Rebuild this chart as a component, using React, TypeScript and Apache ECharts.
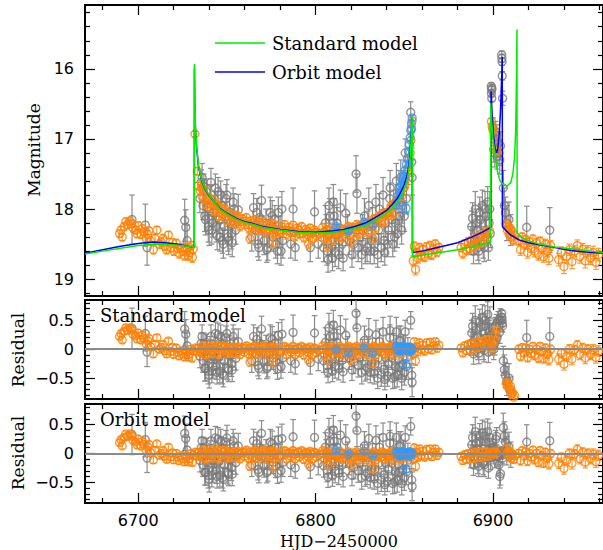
import React, { useEffect, useRef } from "react";
import * as echarts from "echarts";

// ---------- tick values ----------
const xMajorTicks = [6700, 6800, 6900];
const xMinorTicks = [6680, 6720, 6740, 6760, 6780, 6820, 6840, 6860, 6880, 6920, 6940, 6960];
const magMajorTicks = [16, 17, 18, 19];
const magMinorTicks = [15.2, 15.4, 15.6, 15.8, 16.2, 16.4, 16.6, 16.8, 17.2, 17.4, 17.6, 17.8, 18.2, 18.4, 18.6, 18.8, 19.2];
const resMajorTicks = [-0.5, 0, 0.5];
const resMinorTicks = [-0.8, -0.7, -0.6, -0.4, -0.3, -0.2, -0.1, 0.1, 0.2, 0.3, 0.4, 0.6, 0.7, 0.8];

// ---------- model curves [HJD, mag] ----------
const standardModel = [
  [6670, 18.64], [6680, 18.6], [6690, 18.56], [6700, 18.52], [6710, 18.5], [6720, 18.51], [6728, 18.53], [6731.6, 18.55],
  [6731.7, 15.93], [6731.9, 16.45], [6732.3, 16.85], [6733, 17.12], [6734, 17.38], [6735.5, 17.56], [6737.5, 17.7],
  [6740, 17.8], [6743, 17.9], [6746, 18.0], [6750, 18.07], [6755, 18.14], [6760, 18.19], [6765, 18.22], [6770, 18.26],
  [6775, 18.28], [6780, 18.3], [6790, 18.33], [6800, 18.34], [6810, 18.33], [6816, 18.31], [6822, 18.28], [6828, 18.23],
  [6833, 18.17], [6837, 18.11], [6840, 18.06], [6843, 17.99], [6846, 17.9], [6848, 17.82], [6850, 17.71], [6851.5, 17.6],
  [6852.5, 17.45], [6853.3, 17.25], [6853.9, 17.0], [6854.3, 16.75], [6854.5, 16.7], [6854.6, 18.68], [6860, 18.66],
  [6870, 18.62], [6880, 18.58], [6890, 18.53], [6898.6, 18.47], [6898.7, 16.49], [6899.2, 16.75], [6900, 17.0],
  [6901, 17.2], [6902.4, 17.45], [6904, 17.6], [6906, 17.66], [6908, 17.67], [6910, 17.62], [6911.2, 17.5],
  [6912.2, 17.25], [6912.8, 16.85], [6913.2, 16.2], [6913.5, 15.44], [6913.6, 18.34], [6916, 18.4], [6920, 18.45],
  [6926, 18.5], [6935, 18.54], [6945, 18.57], [6955, 18.6], [6962, 18.62],
];
const orbitModel = [
  [6670, 18.63], [6680, 18.58], [6690, 18.53], [6700, 18.49], [6708, 18.47], [6715, 18.48], [6722, 18.5], [6728, 18.53],
  [6731.6, 18.55], [6731.7, 16.0], [6731.9, 16.5], [6732.3, 16.88], [6733, 17.15], [6734, 17.4], [6735.5, 17.57],
  [6737.5, 17.71], [6740, 17.81], [6743, 17.9], [6746, 17.99], [6750, 18.06], [6755, 18.13], [6760, 18.18], [6765, 18.21],
  [6770, 18.25], [6775, 18.27], [6780, 18.29], [6790, 18.32], [6800, 18.33], [6810, 18.31], [6816, 18.29], [6822, 18.25],
  [6828, 18.2], [6833, 18.13], [6837, 18.07], [6840, 18.02], [6843, 17.94], [6846, 17.85], [6848, 17.76], [6850, 17.65],
  [6851.5, 17.53], [6852.5, 17.39], [6853.3, 17.2], [6853.9, 16.97], [6854.3, 16.75], [6854.5, 16.7], [6854.6, 18.62],
  [6860, 18.6], [6870, 18.54], [6880, 18.48], [6888, 18.4], [6894, 18.33], [6898.8, 18.26], [6898.9, 16.32],
  [6899.5, 16.65], [6900.3, 16.95], [6901.2, 17.14], [6902, 17.2], [6902.8, 17.12], [6903.6, 16.9], [6904.3, 16.55],
  [6904.9, 16.1], [6905.2, 15.83], [6905.3, 18.25], [6907, 18.3], [6910, 18.37], [6914.6, 18.44], [6920, 18.48],
  [6926, 18.51], [6935, 18.55], [6944, 18.59], [6955, 18.62], [6962, 18.63],
];

// ---------- data [HJD, mag, err, resid(standard), resid(orbit)] ----------
const orangePoints = [
  [6689.5, 18.35, 0.05, 0.22, 0.19], [6691.0, 18.40, 0.05, 0.16, 0.13], [6693.0, 18.18, 0.05, 0.37, 0.34],
  [6694.0, 18.22, 0.06, 0.33, 0.30], [6695.5, 18.17, 0.05, 0.37, 0.34], [6697.0, 18.27, 0.06, 0.26, 0.23],
  [6698.5, 18.30, 0.05, 0.23, 0.20], [6700.0, 18.24, 0.06, 0.28, 0.25], [6701.5, 18.36, 0.06, 0.16, 0.13],
  [6703.0, 18.32, 0.05, 0.19, 0.16], [6704.5, 18.42, 0.06, 0.09, 0.06], [6706.0, 18.31, 0.05, 0.19, 0.16],
  [6707.0, 18.46, 0.06, 0.04, 0.01], [6708.5, 18.58, 0.06, -0.08, -0.11], [6710.5, 18.30, 0.05, 0.20, 0.17],
  [6713.0, 18.47, 0.06, 0.03, 0.00], [6715.0, 18.53, 0.06, -0.03, -0.05], [6717.0, 18.37, 0.05, 0.14, 0.11],
  [6718.5, 18.55, 0.06, -0.04, -0.06], [6720.0, 18.60, 0.06, -0.09, -0.11], [6721.5, 18.49, 0.06, 0.02, 0.00],
  [6723.0, 18.63, 0.07, -0.11, -0.12], [6724.5, 18.55, 0.06, -0.03, -0.04], [6726.0, 18.66, 0.07, -0.13, -0.14],
  [6727.5, 18.57, 0.06, -0.04, -0.05], [6729.0, 18.62, 0.06, -0.08, -0.09], [6730.5, 18.69, 0.07, -0.15, -0.15],
  [6731.0, 18.57, 0.06, -0.03, -0.03],
  [6690.3, 18.30, 0.05, 0.27, 0.24], [6692.0, 18.25, 0.05, 0.31, 0.28], [6696.3, 18.21, 0.05, 0.33, 0.30],
  [6699.3, 18.35, 0.06, 0.18, 0.15], [6702.3, 18.28, 0.05, 0.24, 0.21], [6705.3, 18.36, 0.06, 0.15, 0.12],
  [6709.5, 18.42, 0.06, 0.08, 0.05], [6712.0, 18.50, 0.06, 0.00, -0.03], [6714.0, 18.42, 0.06, 0.08, 0.05],
  [6716.0, 18.58, 0.06, -0.08, -0.10], [6719.3, 18.48, 0.06, 0.03, 0.01], [6722.3, 18.56, 0.06, -0.05, -0.06],
  [6725.3, 18.60, 0.06, -0.08, -0.09], [6728.3, 18.66, 0.07, -0.13, -0.14], [6729.8, 18.52, 0.06, 0.00, 0.00],
  [6732.0, 16.93, 0.04, 0.02, 0.02], [6733.3, 17.46, 0.05, -0.05, -0.05], [6733.8, 17.67, 0.05, 0.02, 0.02],
  [6735.0, 17.74, 0.06, -0.04, -0.04], [6736.0, 17.82, 0.06, -0.07, -0.07], [6737.0, 17.72, 0.05, 0.07, 0.07],
  [6738.2, 17.93, 0.06, -0.10, -0.10], [6739.4, 17.84, 0.05, 0.02, 0.02], [6740.6, 17.97, 0.06, -0.08, -0.08],
  [6741.8, 17.86, 0.05, 0.06, 0.06], [6743.0, 18.02, 0.06, -0.07, -0.07], [6744.2, 17.93, 0.05, 0.06, 0.06],
  [6745.4, 18.10, 0.06, -0.09, -0.09], [6746.6, 17.98, 0.05, 0.05, 0.05], [6747.8, 18.08, 0.06, -0.03, -0.03],
  [6749.0, 18.00, 0.05, 0.06, 0.06], [6750.2, 18.16, 0.06, -0.08, -0.08], [6751.4, 18.06, 0.05, 0.03, 0.03],
  [6752.6, 18.18, 0.07, -0.07, -0.07], [6753.8, 18.08, 0.05, 0.04, 0.04], [6755.0, 18.20, 0.06, -0.07, -0.07],
  [6756.2, 18.10, 0.05, 0.04, 0.04], [6757.4, 18.24, 0.07, -0.09, -0.09], [6758.6, 18.14, 0.05, 0.02, 0.02],
  [6759.8, 18.22, 0.06, -0.05, -0.05], [6761.0, 18.12, 0.05, 0.06, 0.06], [6762.2, 18.27, 0.07, -0.08, -0.08],
  [6763.4, 18.17, 0.05, 0.03, 0.03], [6764.6, 18.26, 0.06, -0.06, -0.06], [6765.8, 18.15, 0.05, 0.06, 0.06],
  [6767.0, 18.30, 0.07, -0.08, -0.08], [6768.2, 18.19, 0.05, 0.03, 0.03], [6769.4, 18.28, 0.06, -0.05, -0.05],
  [6770.6, 18.18, 0.05, 0.06, 0.06], [6771.8, 18.33, 0.07, -0.09, -0.09], [6773.0, 18.22, 0.05, 0.02, 0.02],
  [6774.2, 18.30, 0.06, -0.05, -0.05], [6775.4, 18.20, 0.05, 0.05, 0.05], [6776.6, 18.34, 0.07, -0.09, -0.09],
  [6777.8, 18.23, 0.05, 0.03, 0.03], [6779.0, 18.31, 0.06, -0.05, -0.05], [6782.5, 18.22, 0.05, 0.05, 0.05],
  [6783.7, 18.36, 0.07, -0.09, -0.09], [6784.9, 18.26, 0.05, 0.02, 0.02], [6786.1, 18.33, 0.06, -0.05, -0.05],
  [6787.3, 18.23, 0.05, 0.05, 0.05], [6788.5, 18.38, 0.07, -0.09, -0.09], [6789.7, 18.27, 0.05, 0.02, 0.02],
  [6790.9, 18.35, 0.06, -0.06, -0.06], [6792.1, 18.25, 0.05, 0.05, 0.05], [6793.3, 18.40, 0.07, -0.10, -0.10],
  [6794.5, 18.29, 0.05, 0.02, 0.02], [6795.7, 18.36, 0.06, -0.05, -0.05], [6796.9, 18.27, 0.05, 0.04, 0.04],
  [6798.1, 18.42, 0.07, -0.10, -0.10], [6799.3, 18.30, 0.05, 0.02, 0.02], [6800.5, 18.38, 0.07, -0.06, -0.06],
  [6804.0, 18.26, 0.05, 0.06, 0.05], [6805.2, 18.41, 0.07, -0.09, -0.10], [6806.4, 18.30, 0.05, 0.02, 0.01],
  [6807.6, 18.37, 0.06, -0.05, -0.06], [6808.8, 18.27, 0.05, 0.05, 0.04], [6810.0, 18.43, 0.07, -0.11, -0.12],
  [6811.2, 18.31, 0.05, 0.01, 0.00], [6812.4, 18.38, 0.06, -0.06, -0.07], [6813.6, 18.27, 0.05, 0.05, 0.04],
  [6814.8, 18.40, 0.07, -0.09, -0.10], [6816.0, 18.29, 0.05, 0.02, 0.00], [6817.2, 18.35, 0.06, -0.05, -0.07],
  [6818.4, 18.25, 0.05, 0.05, 0.03], [6819.6, 18.38, 0.07, -0.09, -0.11], [6820.8, 18.26, 0.05, 0.03, 0.01],
  [6822.0, 18.33, 0.06, -0.05, -0.07], [6823.2, 18.22, 0.05, 0.05, 0.03], [6824.4, 18.35, 0.07, -0.09, -0.11],
  [6825.6, 18.24, 0.05, 0.02, 0.00], [6826.8, 18.30, 0.06, -0.05, -0.07], [6828.0, 18.19, 0.05, 0.05, 0.03],
  [6829.2, 18.32, 0.07, -0.09, -0.11], [6830.4, 18.20, 0.05, 0.02, 0.00], [6831.6, 18.25, 0.06, -0.05, -0.07],
  [6832.8, 18.14, 0.05, 0.05, 0.03], [6834.0, 18.26, 0.07, -0.09, -0.11], [6835.2, 18.13, 0.05, 0.02, 0.00],
  [6836.4, 18.18, 0.06, -0.05, -0.07], [6837.6, 18.06, 0.05, 0.05, 0.03], [6838.8, 18.17, 0.07, -0.08, -0.10],
  [6840.0, 18.05, 0.05, 0.02, 0.00], [6841.2, 18.09, 0.06, -0.05, -0.07], [6842.4, 17.96, 0.05, 0.05, 0.03],
  [6843.6, 18.06, 0.07, -0.09, -0.11], [6844.8, 17.91, 0.05, 0.02, 0.00], [6846.0, 17.92, 0.06, -0.05, -0.07],
  [6847.2, 17.77, 0.05, 0.04, 0.02], [6848.4, 17.82, 0.06, -0.08, -0.10], [6849.6, 17.63, 0.05, 0.02, 0.00],
  [6850.8, 17.57, 0.06, -0.03, -0.05], [6851.8, 17.46, 0.05, 0.03, 0.01], [6852.6, 17.30, 0.05, -0.02, -0.04],
  [6853.3, 17.20, 0.04, 0.00, -0.02], [6853.7, 17.02, 0.04, 0.02, 0.01], [6854.1, 16.86, 0.04, 0.01, 0.01],
  [6854.4, 16.74, 0.04, 0.00, 0.00],
  [6735.6, 17.70, 0.05, 0.00, 0.00], [6738.8, 17.86, 0.05, -0.01, -0.01], [6741.2, 17.92, 0.05, -0.01, -0.01],
  [6743.6, 17.94, 0.05, 0.02, 0.02], [6746.0, 18.05, 0.05, -0.02, -0.02], [6748.4, 18.03, 0.05, 0.03, 0.03],
  [6750.8, 18.11, 0.05, -0.02, -0.02], [6753.2, 18.12, 0.05, 0.00, 0.00], [6755.6, 18.13, 0.05, 0.01, 0.01],
  [6758.0, 18.18, 0.05, -0.01, -0.01], [6760.4, 18.17, 0.05, 0.02, 0.02], [6762.8, 18.22, 0.05, -0.02, -0.02],
  [6765.2, 18.20, 0.05, 0.01, 0.01], [6767.6, 18.26, 0.05, -0.02, -0.02], [6770.0, 18.23, 0.05, 0.03, 0.03],
  [6772.4, 18.29, 0.05, -0.02, -0.02], [6774.8, 18.25, 0.05, 0.03, 0.03], [6777.2, 18.29, 0.05, -0.01, -0.01],
  [6780.2, 18.33, 0.06, -0.04, -0.04], [6783.1, 18.30, 0.05, 0.00, 0.00], [6785.5, 18.31, 0.05, 0.00, 0.00],
  [6787.9, 18.33, 0.05, -0.01, -0.01], [6790.3, 18.30, 0.05, 0.02, 0.02], [6792.7, 18.35, 0.05, -0.02, -0.02],
  [6795.1, 18.32, 0.05, 0.01, 0.01], [6797.5, 18.35, 0.05, -0.01, -0.01], [6799.9, 18.33, 0.05, 0.01, 0.01],
  [6802.3, 18.35, 0.06, -0.01, -0.01], [6804.6, 18.33, 0.05, 0.00, 0.00], [6807.0, 18.35, 0.05, -0.02, -0.02],
  [6809.4, 18.32, 0.05, 0.01, 0.00], [6811.8, 18.35, 0.05, -0.02, -0.03], [6814.2, 18.31, 0.05, 0.01, -0.01],
  [6816.6, 18.32, 0.05, -0.01, -0.03], [6819.0, 18.28, 0.05, 0.01, -0.01], [6821.4, 18.29, 0.05, -0.02, -0.04],
  [6823.8, 18.25, 0.05, 0.01, -0.01], [6826.2, 18.25, 0.05, -0.01, -0.03], [6828.6, 18.21, 0.05, 0.01, -0.01],
  [6831.0, 18.20, 0.05, -0.01, -0.03], [6833.4, 18.14, 0.05, 0.02, 0.00], [6835.8, 18.12, 0.05, -0.01, -0.03],
  [6838.2, 18.07, 0.05, 0.02, 0.00], [6840.6, 18.06, 0.05, -0.01, -0.03], [6843.0, 17.97, 0.05, 0.02, 0.00],
  [6845.4, 17.88, 0.05, 0.00, -0.02], [6847.8, 17.78, 0.05, 0.02, 0.00], [6850.2, 17.68, 0.05, 0.00, -0.02],
  [6852.2, 17.40, 0.05, 0.01, -0.01],
  [6763.0, 18.42, 0.07, -0.22, -0.22], [6776.0, 18.48, 0.07, -0.22, -0.22], [6796.0, 18.50, 0.07, -0.18, -0.18],
  [6806.8, 18.52, 0.07, -0.19, -0.20], [6820.0, 18.48, 0.07, -0.19, -0.21], [6832.4, 18.42, 0.07, -0.24, -0.26],
  [6855.0, 18.74, 0.07, -0.08, -0.10], [6855.6, 18.53, 0.06, 0.13, 0.10], [6856.3, 18.86, 0.08, -0.20, -0.22],
  [6857.0, 18.62, 0.06, 0.04, 0.02], [6857.8, 18.70, 0.07, -0.04, -0.06], [6858.6, 18.55, 0.06, 0.11, 0.08],
  [6859.5, 18.66, 0.07, 0.00, -0.03], [6860.5, 18.58, 0.06, 0.07, 0.04], [6861.5, 18.68, 0.07, -0.03, -0.06],
  [6862.5, 18.54, 0.06, 0.11, 0.07], [6863.5, 18.63, 0.07, 0.01, -0.03], [6864.5, 18.52, 0.06, 0.12, 0.08],
  [6865.5, 18.65, 0.07, -0.01, -0.05], [6866.5, 18.57, 0.06, 0.06, 0.02], [6867.5, 18.50, 0.06, 0.13, 0.08],
  [6868.5, 18.61, 0.07, 0.02, -0.03], [6869.5, 18.55, 0.06, 0.07, 0.02],
  [6882.0, 18.55, 0.06, 0.02, -0.05], [6883.0, 18.63, 0.07, -0.06, -0.12], [6884.0, 18.50, 0.06, 0.06, -0.02],
  [6885.0, 18.58, 0.07, -0.02, -0.10], [6886.0, 18.47, 0.06, 0.08, 0.00], [6887.0, 18.56, 0.07, -0.01, -0.09],
  [6888.0, 18.45, 0.06, 0.09, 0.01], [6889.0, 18.53, 0.07, 0.01, -0.08], [6890.0, 18.42, 0.06, 0.11, 0.02],
  [6891.0, 18.50, 0.07, 0.03, -0.06], [6892.0, 18.40, 0.06, 0.12, 0.02], [6893.0, 18.47, 0.07, 0.05, -0.06],
  [6894.0, 18.37, 0.06, 0.14, 0.03], [6895.0, 18.44, 0.07, 0.07, -0.05], [6896.0, 18.34, 0.06, 0.16, 0.03],
  [6897.0, 18.40, 0.07, 0.09, -0.04], [6898.0, 18.31, 0.06, 0.17, 0.00],
  [6899.1, 16.75, 0.04, 0.05, 0.02], [6899.5, 16.82, 0.04, 0.00, -0.03], [6900.0, 16.88, 0.04, 0.10, 0.00],
  [6900.6, 16.95, 0.05, 0.15, 0.02], [6901.4, 17.10, 0.05, 0.27, 0.04], [6902.0, 17.17, 0.05, 0.33, 0.00],
  [6907.5, 18.22, 0.06, -0.58, 0.08], [6908.0, 18.30, 0.06, -0.63, 0.00], [6908.6, 18.26, 0.06, -0.60, 0.04],
  [6909.2, 18.36, 0.07, -0.70, -0.05], [6909.8, 18.28, 0.06, -0.64, 0.03], [6910.4, 18.40, 0.07, -0.78, -0.08],
  [6911.0, 18.33, 0.06, -0.75, -0.01], [6911.6, 18.44, 0.07, -0.83, -0.10], [6912.2, 18.38, 0.06, -0.80, -0.04],
  [6914.5, 18.45, 0.07, 0.00, 0.00], [6915.5, 18.58, 0.08, -0.12, -0.12], [6916.5, 18.40, 0.06, 0.03, 0.05],
  [6917.5, 18.50, 0.07, -0.06, -0.04], [6918.5, 18.44, 0.06, 0.02, 0.03], [6919.5, 18.62, 0.08, -0.14, -0.13],
  [6920.5, 18.47, 0.06, 0.00, 0.00], [6921.5, 18.55, 0.07, -0.07, -0.06], [6922.5, 18.43, 0.06, 0.05, 0.06],
  [6923.5, 18.60, 0.08, -0.10, -0.10], [6924.5, 18.49, 0.07, 0.00, 0.00], [6925.5, 18.65, 0.08, -0.15, -0.15],
  [6926.5, 18.46, 0.06, 0.05, 0.05], [6927.5, 18.56, 0.07, -0.04, -0.04], [6928.5, 18.68, 0.08, -0.16, -0.16],
  [6929.5, 18.50, 0.07, 0.02, 0.02], [6930.5, 18.60, 0.08, -0.08, -0.08], [6931.5, 18.70, 0.09, -0.18, -0.18],
  [6932.5, 18.52, 0.07, 0.00, 0.00],
  [6937.0, 18.72, 0.09, -0.17, -0.17], [6938.5, 18.62, 0.08, -0.07, -0.07], [6940.0, 18.82, 0.10, -0.26, -0.26],
  [6941.5, 18.68, 0.09, -0.12, -0.12], [6943.0, 18.58, 0.08, 0.00, 0.00], [6944.5, 18.75, 0.10, -0.17, -0.17],
  [6946.0, 18.60, 0.08, -0.01, -0.01], [6947.5, 18.52, 0.08, 0.07, 0.07], [6949.0, 18.68, 0.09, -0.09, -0.09],
  [6950.5, 18.57, 0.08, 0.02, 0.02], [6952.0, 18.74, 0.10, -0.15, -0.15], [6953.5, 18.60, 0.08, 0.00, 0.00],
  [6955.0, 18.70, 0.09, -0.09, -0.09], [6956.5, 18.62, 0.09, -0.01, -0.01], [6958.0, 18.76, 0.10, -0.14, -0.14],
  [6959.5, 18.65, 0.09, -0.03, -0.03],
];

const grayPoints = [
  [6696.5, 18.15, 0.35, 0.36, 0.33], [6704.0, 18.23, 0.30, 0.27, 0.24], [6705.0, 18.55, 0.25, -0.05, -0.08],
  [6726.2, 18.16, 0.30, 0.35, 0.35], [6726.8, 18.26, 0.25, 0.26, 0.26], [6727.6, 18.45, 0.22, 0.06, 0.06],
  [6735.5, 17.62, 0.18, 0.10, 0.10], [6736.5, 17.95, 0.20, -0.20, -0.20], [6737.5, 18.10, 0.22, -0.33, -0.33],
  [6738.5, 17.75, 0.18, 0.08, 0.08], [6739.5, 18.25, 0.22, -0.38, -0.38], [6740.5, 17.85, 0.20, 0.02, 0.02],
  [6741.5, 18.30, 0.20, -0.38, -0.38], [6742.5, 18.05, 0.18, -0.12, -0.12], [6743.5, 17.70, 0.20, 0.27, 0.27],
  [6744.5, 18.38, 0.20, -0.40, -0.40], [6745.5, 18.15, 0.20, -0.14, -0.14], [6746.5, 17.80, 0.20, 0.22, 0.22],
  [6747.5, 18.45, 0.18, -0.42, -0.42], [6748.5, 18.25, 0.20, -0.20, -0.20], [6749.5, 17.85, 0.20, 0.20, 0.20],
  [6750.5, 18.40, 0.20, -0.33, -0.33], [6751.5, 18.05, 0.20, 0.03, 0.03], [6752.5, 18.35, 0.22, -0.25, -0.25],
  [6753.5, 17.90, 0.20, 0.22, 0.22], [6756.4, 18.01, 0.22, 0.13, 0.13],
  [6734.8, 17.85, 0.20, -0.12, -0.12], [6736.0, 17.55, 0.20, 0.22, 0.22], [6737.0, 17.68, 0.18, 0.10, 0.10],
  [6738.0, 18.15, 0.22, -0.33, -0.33], [6739.0, 17.98, 0.20, -0.15, -0.15], [6740.0, 18.30, 0.22, -0.45, -0.45],
  [6741.0, 17.62, 0.20, 0.22, 0.22], [6742.0, 18.20, 0.20, -0.30, -0.30], [6743.0, 17.95, 0.20, -0.05, -0.05],
  [6744.0, 18.25, 0.22, -0.30, -0.30], [6745.0, 17.75, 0.20, 0.25, 0.25], [6746.0, 18.40, 0.20, -0.38, -0.38],
  [6747.0, 17.95, 0.20, 0.08, 0.08], [6748.0, 18.50, 0.20, -0.45, -0.45], [6749.0, 18.10, 0.20, -0.04, -0.04],
  [6750.0, 17.80, 0.22, 0.27, 0.27], [6751.0, 18.45, 0.20, -0.36, -0.36], [6752.0, 18.20, 0.20, -0.10, -0.10],
  [6753.0, 18.48, 0.20, -0.36, -0.36], [6754.0, 18.00, 0.22, 0.13, 0.13], [6755.0, 18.30, 0.20, -0.16, -0.16],
  [6765.0, 17.98, 0.20, 0.22, 0.22], [6766.0, 18.30, 0.20, -0.08, -0.08], [6767.5, 18.50, 0.18, -0.28, -0.28],
  [6768.5, 18.12, 0.20, 0.10, 0.10], [6769.5, 17.88, 0.22, 0.35, 0.35], [6771.0, 18.45, 0.20, -0.21, -0.21],
  [6772.0, 18.20, 0.20, 0.04, 0.04], [6773.0, 18.55, 0.18, -0.30, -0.30], [6774.5, 18.05, 0.22, 0.20, 0.20],
  [6776.0, 18.40, 0.20, -0.15, -0.15], [6777.0, 18.15, 0.20, 0.10, 0.10], [6778.5, 18.60, 0.18, -0.34, -0.34],
  [6780.0, 18.30, 0.20, -0.04, -0.04], [6781.0, 18.00, 0.25, 0.26, 0.26], [6787.3, 18.00, 0.30, 0.29, 0.29],
  [6799.4, 18.04, 0.30, 0.28, 0.28],
  [6764.0, 18.40, 0.20, -0.20, -0.20], [6766.8, 18.05, 0.20, 0.17, 0.17], [6768.0, 18.55, 0.18, -0.33, -0.33],
  [6770.0, 18.30, 0.20, -0.05, -0.05], [6772.5, 18.58, 0.18, -0.33, -0.33], [6774.0, 18.35, 0.20, -0.08, -0.08],
  [6775.5, 18.10, 0.22, 0.17, 0.17], [6777.5, 18.50, 0.20, -0.22, -0.22], [6779.0, 18.05, 0.22, 0.24, 0.24],
  [6780.5, 18.60, 0.20, -0.30, -0.30], [6781.5, 18.45, 0.25, -0.15, -0.15],
  [6786.0, 18.50, 0.20, -0.20, -0.20], [6788.5, 18.55, 0.18, -0.25, -0.25], [6797.0, 18.55, 0.20, -0.23, -0.23],
  [6801.5, 18.50, 0.20, -0.17, -0.17],
  [6805.5, 18.20, 0.25, 0.12, 0.11], [6806.5, 18.60, 0.20, -0.28, -0.29], [6807.5, 17.95, 0.25, 0.37, 0.36],
  [6808.5, 18.45, 0.20, -0.13, -0.14], [6809.5, 18.70, 0.18, -0.38, -0.39], [6810.5, 18.10, 0.25, 0.22, 0.21],
  [6811.5, 18.35, 0.20, -0.03, -0.04], [6813.0, 18.65, 0.20, -0.33, -0.34], [6814.0, 17.98, 0.25, 0.33, 0.32],
  [6815.0, 18.50, 0.20, -0.19, -0.20],
  [6804.5, 18.55, 0.20, -0.20, -0.21], [6806.0, 18.30, 0.22, 0.03, 0.02], [6807.0, 18.72, 0.18, -0.40, -0.41],
  [6808.0, 18.10, 0.25, 0.22, 0.21], [6809.0, 18.55, 0.20, -0.22, -0.23], [6810.0, 17.90, 0.25, 0.42, 0.41],
  [6811.0, 18.62, 0.20, -0.30, -0.31], [6812.0, 18.20, 0.22, 0.12, 0.11], [6813.5, 18.45, 0.20, -0.14, -0.15],
  [6815.5, 18.70, 0.18, -0.39, -0.40],
  [6817.0, 18.06, 0.28, 0.24, 0.22], [6819.0, 18.45, 0.20, -0.15, -0.17], [6820.5, 18.65, 0.18, -0.36, -0.38],
  [6822.8, 17.50, 0.26, 0.62, 0.65], [6823.3, 17.78, 0.28, 0.37, 0.40], [6825.0, 18.40, 0.20, -0.14, -0.16],
  [6826.0, 18.65, 0.20, -0.40, -0.42], [6827.5, 18.10, 0.25, 0.15, 0.13], [6829.0, 18.55, 0.20, -0.32, -0.34],
  [6830.0, 17.95, 0.25, 0.28, 0.26], [6831.5, 18.45, 0.20, -0.25, -0.27], [6833.0, 18.60, 0.18, -0.42, -0.44],
  [6834.0, 17.90, 0.25, 0.25, 0.23], [6835.5, 18.30, 0.20, -0.15, -0.17], [6837.0, 18.55, 0.20, -0.44, -0.46],
  [6838.0, 17.80, 0.25, 0.30, 0.28], [6839.5, 18.20, 0.20, -0.15, -0.17], [6840.5, 18.50, 0.18, -0.46, -0.48],
  [6842.0, 17.70, 0.25, 0.32, 0.30], [6843.0, 18.15, 0.20, -0.15, -0.17], [6844.5, 18.40, 0.20, -0.47, -0.49],
  [6845.5, 17.60, 0.25, 0.30, 0.28], [6846.5, 18.00, 0.22, -0.16, -0.18], [6848.0, 17.55, 0.25, 0.15, 0.13],
  [6849.0, 17.95, 0.25, -0.27, -0.29], [6850.5, 17.20, 0.20, 0.30, 0.28],
  [6818.0, 18.30, 0.22, 0.00, -0.02], [6821.5, 18.50, 0.20, -0.22, -0.24], [6824.0, 18.55, 0.20, -0.28, -0.30],
  [6826.5, 18.30, 0.22, -0.05, -0.07], [6828.0, 18.60, 0.18, -0.37, -0.39], [6829.5, 18.25, 0.22, -0.05, -0.07],
  [6830.8, 18.60, 0.18, -0.40, -0.42], [6832.0, 18.20, 0.22, -0.03, -0.05], [6833.5, 18.40, 0.20, -0.25, -0.27],
  [6835.0, 18.65, 0.18, -0.50, -0.52], [6836.0, 18.00, 0.22, 0.13, 0.11], [6838.5, 18.45, 0.20, -0.35, -0.37],
  [6839.0, 18.62, 0.18, -0.52, -0.54], [6841.0, 18.30, 0.20, -0.25, -0.27], [6841.8, 17.85, 0.22, 0.20, 0.18],
  [6843.5, 18.50, 0.18, -0.50, -0.52], [6844.0, 17.95, 0.22, 0.05, 0.03], [6845.0, 18.20, 0.20, -0.30, -0.32],
  [6846.0, 18.35, 0.20, -0.45, -0.47], [6847.0, 17.70, 0.25, 0.15, 0.13], [6847.5, 18.10, 0.22, -0.30, -0.32],
  [6848.5, 18.30, 0.20, -0.50, -0.52], [6849.5, 17.70, 0.25, 0.00, -0.02], [6850.0, 18.10, 0.22, -0.40, -0.42],
  [6851.2, 17.85, 0.22, -0.30, -0.32], [6852.0, 17.45, 0.20, 0.00, -0.02],
  [6853.6, 16.62, 0.15, 0.50, 0.47], [6853.9, 16.85, 0.12, -0.05, -0.06], [6854.2, 17.33, 0.20, -0.45, -0.46],
  [6854.4, 17.55, 0.25, -0.57, -0.57],
  [6888.5, 18.13, 0.22, 0.40, 0.28], [6889.5, 18.45, 0.20, 0.10, -0.05], [6890.5, 18.20, 0.20, 0.33, 0.18],
  [6891.5, 18.55, 0.18, 0.00, -0.17], [6892.5, 18.05, 0.22, 0.47, 0.30], [6893.5, 18.35, 0.20, 0.17, 0.00],
  [6894.5, 18.50, 0.20, 0.02, -0.17], [6895.5, 18.00, 0.25, 0.50, 0.30], [6896.3, 18.30, 0.20, 0.20, 0.00],
  [6897.0, 17.90, 0.22, 0.60, 0.38], [6897.8, 18.20, 0.20, 0.30, 0.06],
  [6887.5, 18.45, 0.20, 0.10, -0.05], [6888.0, 18.25, 0.22, 0.28, 0.15], [6889.0, 18.60, 0.18, -0.08, -0.20],
  [6890.0, 18.00, 0.25, 0.50, 0.38], [6891.0, 18.30, 0.20, 0.23, 0.08], [6892.0, 18.60, 0.18, -0.07, -0.22],
  [6893.0, 18.15, 0.22, 0.38, 0.20], [6894.0, 17.95, 0.22, 0.55, 0.36], [6895.0, 18.55, 0.20, -0.02, -0.20],
  [6896.0, 18.10, 0.22, 0.40, 0.20], [6897.4, 18.55, 0.18, -0.05, -0.25], [6898.2, 18.00, 0.25, 0.48, 0.28],
  [6898.5, 18.35, 0.20, 0.10, -0.08],
  [6899.0, 16.25, 0.05, 0.26, 0.05], [6899.1, 16.35, 0.05, 0.18, -0.02], [6899.2, 16.30, 0.05, 0.25, 0.02],
  [6899.3, 16.42, 0.05, 0.20, -0.06], [6899.4, 16.28, 0.05, 0.38, 0.10],
  [6900.0, 16.85, 0.15, 0.10, 0.10], [6900.8, 17.00, 0.15, 0.20, 0.05], [6901.5, 16.90, 0.15, 0.40, 0.25],
  [6902.3, 17.25, 0.18, 0.20, -0.05], [6903.0, 17.05, 0.15, 0.50, -0.05], [6903.8, 17.30, 0.20, 0.30, -0.40],
  [6900.4, 17.15, 0.18, 0.00, 0.00], [6901.0, 17.20, 0.20, 0.10, -0.05], [6902.0, 16.95, 0.15, 0.45, 0.30],
  [6903.4, 17.20, 0.18, 0.40, -0.20], [6904.2, 17.10, 0.20, 0.50, -0.35],
  [6904.9, 15.80, 0.05, 0.62, 0.02], [6905.0, 15.85, 0.06, 0.55, 0.00], [6905.1, 15.90, 0.05, 0.50, -0.03],
  [6905.2, 16.10, 0.06, 0.45, 0.05], [6905.4, 16.42, 0.10, 0.40, -0.08],
  [6905.8, 17.70, 0.25, -0.20, 0.45], [6906.4, 17.95, 0.25, -0.35, 0.30], [6907.0, 18.05, 0.22, -0.45, 0.20],
  [6907.8, 18.20, 0.25, -0.55, 0.05], [6909.0, 18.15, 0.25, -0.50, 0.12], [6910.0, 18.30, 0.22, -0.70, -0.02],
  [6919.0, 18.26, 0.30, 0.20, 0.20], [6932.0, 18.30, 0.32, 0.22, 0.22],
];

const bluePoints = [
  [6811.6, 18.25, 0.03, 0.00, 0.05], [6818.5, 18.31, 0.03, -0.07, -0.01], [6827.3, 18.19, 0.03, 0.02, 0.04],
  [6832.2, 18.23, 0.03, -0.07, -0.03], [6845.5, 17.95, 0.04, 0.05, 0.03], [6846.2, 17.88, 0.04, -0.02, -0.03],
  [6846.8, 17.80, 0.04, 0.03, 0.02], [6847.4, 17.76, 0.04, -0.03, -0.04], [6848.0, 17.68, 0.04, 0.04, 0.03],
  [6848.6, 17.64, 0.04, -0.02, -0.04], [6849.2, 17.57, 0.04, 0.05, 0.03], [6849.8, 17.52, 0.04, 0.00, -0.02],
  [6850.4, 17.45, 0.04, 0.04, 0.01], [6851.0, 17.99, 0.06, -0.26, -0.27], [6851.2, 17.36, 0.04, 0.02, 0.00],
  [6851.8, 17.28, 0.04, -0.03, -0.04], [6852.4, 17.18, 0.04, 0.03, 0.02], [6852.9, 17.08, 0.04, -0.02, -0.02],
  [6853.3, 16.98, 0.04, 0.04, 0.03], [6853.7, 16.88, 0.04, -0.03, -0.03], [6854.0, 16.78, 0.04, 0.02, 0.02],
  [6854.4, 16.70, 0.04, 0.00, 0.00],
];

const X_MIN = 6670;
const X_MAX = 6962;
const ORANGE = "#ff8000";
const ORANGE_ERR = "#ff9a33";
const GRAY = "#787878";
const GRAY_ERR = "#8c8c8c";
const BLUE_PT = "#3399ff";
const NUM_FONT = "DejaVu Sans";
const TXT_FONT = "DejaVu Serif";

const grids = [
  { left: 85, top: 5, width: 519, height: 291 },
  { left: 85, top: 300, width: 519, height: 99 },
  { left: 85, top: 404, width: 519, height: 99 },
];

function tickSet(values: number[], len: number) {
  return { show: true, inside: true, length: len, customValues: values, lineStyle: { color: "#000", width: 1.2 } };
}

function buildXAxes(gi: number, showLabels: boolean) {
  const base = {
    gridIndex: gi, type: "value", min: X_MIN, max: X_MAX,
    splitLine: { show: false }, axisLine: { show: false, onZero: false },
  };
  return [
    { ...base, position: "bottom", axisTick: tickSet(xMajorTicks, 10),
      axisLabel: { show: showLabels, customValues: xMajorTicks, margin: 9, fontSize: 16, fontFamily: NUM_FONT, color: "#000",
        formatter: (v: number) => String(v) } },
    { ...base, position: "bottom", axisTick: tickSet(xMinorTicks, 5), axisLabel: { show: false } },
    { ...base, position: "top", axisTick: tickSet(xMajorTicks, 10), axisLabel: { show: false } },
    { ...base, position: "top", axisTick: tickSet(xMinorTicks, 5), axisLabel: { show: false } },
  ];
}

function fmtRes(v: number) {
  if (v === 0) return "0";
  return v < 0 ? "\u2212" + Math.abs(v) : String(v);
}

function buildYAxes(gi: number, min: number, max: number, inverse: boolean, major: number[], minor: number[], fmt: (v: number) => string) {
  const base = {
    gridIndex: gi, type: "value", min, max, inverse,
    splitLine: { show: false }, axisLine: { show: false, onZero: false },
  };
  return [
    { ...base, position: "left", axisTick: tickSet(major, 10),
      axisLabel: { show: true, customValues: major, margin: 11, fontSize: 16, fontFamily: NUM_FONT, color: "#000", formatter: fmt } },
    { ...base, position: "left", axisTick: tickSet(minor, 5), axisLabel: { show: false } },
    { ...base, position: "right", axisTick: tickSet(major, 10), axisLabel: { show: false } },
    { ...base, position: "right", axisTick: tickSet(minor, 5), axisLabel: { show: false } },
  ];
}

function errRender(color: string) {
  return (params: any, api: any) => {
    const x = api.value(0);
    const y = api.value(1);
    const e = api.value(2);
    const p1 = api.coord([x, y - e]);
    const p2 = api.coord([x, y + e]);
    const c = 2.8;
    const style = { stroke: color, lineWidth: 1.2 };
    return {
      type: "group",
      children: [
        { type: "line", shape: { x1: p1[0], y1: p1[1], x2: p2[0], y2: p2[1] }, style },
        { type: "line", shape: { x1: p1[0] - c, y1: p1[1], x2: p1[0] + c, y2: p1[1] }, style },
        { type: "line", shape: { x1: p2[0] - c, y1: p2[1], x2: p2[0] + c, y2: p2[1] }, style },
      ],
    };
  };
}

function pointSeries(gi: number, data: number[][], col: number, color: string, errColor: string, z: number) {
  const rows = data.map((d) => [d[0], d[col], d[2]]);
  return [
    {
      type: "custom", xAxisIndex: gi * 4, yAxisIndex: gi * 4, data: rows, encode: { x: 0, y: 1 },
      renderItem: errRender(errColor), clip: true, silent: true, z,
    },
    {
      type: "scatter", xAxisIndex: gi * 4, yAxisIndex: gi * 4, data: rows.map((r) => [r[0], r[1]]),
      symbol: "circle", symbolSize: 8, clip: true, silent: true, z: z + 0.5,
      itemStyle: { color: "rgba(0,0,0,0)", borderColor: color, borderWidth: 1.4 },
    },
  ];
}

function panelSeries(gi: number, col: number) {
  return [
    ...pointSeries(gi, grayPoints, col, GRAY, GRAY_ERR, 2),
    ...pointSeries(gi, orangePoints, col, ORANGE, ORANGE_ERR, 3),
    ...pointSeries(gi, bluePoints, col, BLUE_PT, BLUE_PT, 4),
  ];
}

function zeroLineSeries(gi: number) {
  return {
    type: "line", xAxisIndex: gi * 4, yAxisIndex: gi * 4, data: [], silent: true, z: 8,
    markLine: {
      silent: true, symbol: ["none", "none"], label: { show: false },
      lineStyle: { color: "#8a8a8a", width: 2, type: "solid" },
      data: [{ yAxis: 0 }],
    },
  };
}

export default function App() {
  const ref = useRef<HTMLDivElement>(null);
  useEffect(() => {
    if (!ref.current) return;
    const chart = echarts.init(ref.current, null, { renderer: "svg" });
    const xAxis = [...buildXAxes(0, false), ...buildXAxes(1, false), ...buildXAxes(2, true)];
    const yAxis = [
      ...buildYAxes(0, 15.09, 19.24, true, magMajorTicks, magMinorTicks, (v: number) => String(v)),
      ...buildYAxes(1, -0.86, 0.85, false, resMajorTicks, resMinorTicks, fmtRes),
      ...buildYAxes(2, -0.86, 0.86, false, resMajorTicks, resMinorTicks, fmtRes),
    ];
    const textStyle = (size: number) => ({ fontSize: size, fontFamily: TXT_FONT, fill: "#000" });
    const option: any = {
      animation: false,
      backgroundColor: "#fff",
      grid: grids.map((g) => ({ ...g, show: true, borderColor: "#000", borderWidth: 2, backgroundColor: "transparent" })),
      xAxis,
      yAxis,
      series: [
        ...panelSeries(0, 1),
        {
          type: "line", xAxisIndex: 0, yAxisIndex: 0, data: orbitModel, showSymbol: false, symbol: "none",
          lineStyle: { color: "#0000ff", width: 1.5 }, silent: true, z: 6, clip: true,
        },
        {
          type: "line", xAxisIndex: 0, yAxisIndex: 0, data: standardModel, showSymbol: false, symbol: "none",
          lineStyle: { color: "#00ee00", width: 1.5 }, silent: true, z: 7, clip: true,
        },
        ...panelSeries(1, 3),
        zeroLineSeries(1),
        ...panelSeries(2, 4),
        zeroLineSeries(2),
      ],
      graphic: [
        { type: "line", shape: { x1: 215, y1: 43, x2: 265, y2: 43 }, style: { stroke: "#00ee00", lineWidth: 1.5 }, z: 100 },
        { type: "text", x: 272, y: 43, style: { ...textStyle(18), text: "Standard model", verticalAlign: "middle" }, z: 100 },
        { type: "line", shape: { x1: 215, y1: 72, x2: 265, y2: 72 }, style: { stroke: "#0000ff", lineWidth: 1.5 }, z: 100 },
        { type: "text", x: 272, y: 72, style: { ...textStyle(18), text: "Orbit model", verticalAlign: "middle" }, z: 100 },
        { type: "text", x: 100, y: 315, style: { ...textStyle(18), text: "Standard model", verticalAlign: "middle" }, z: 100 },
        { type: "text", x: 100, y: 419, style: { ...textStyle(18), text: "Orbit model", verticalAlign: "middle" }, z: 100 },
        { type: "text", x: 34, y: 150, rotation: Math.PI / 2, style: { ...textStyle(17), text: "Magnitude", align: "center", verticalAlign: "middle" }, z: 100 },
        { type: "text", x: 18, y: 350, rotation: Math.PI / 2, style: { ...textStyle(17), text: "Residual", align: "center", verticalAlign: "middle" }, z: 100 },
        { type: "text", x: 18, y: 453, rotation: Math.PI / 2, style: { ...textStyle(17), text: "Residual", align: "center", verticalAlign: "middle" }, z: 100 },
        { type: "text", x: 339, y: 541, style: { ...textStyle(16), text: "HJD\u22122450000", align: "center", verticalAlign: "middle" }, z: 100 },
      ],
    };
    chart.setOption(option);
    return () => chart.dispose();
  }, []);
  return <div ref={ref} style={{ position: "absolute", left: 0, top: 0, width: 603, height: 550 }} />;
}
